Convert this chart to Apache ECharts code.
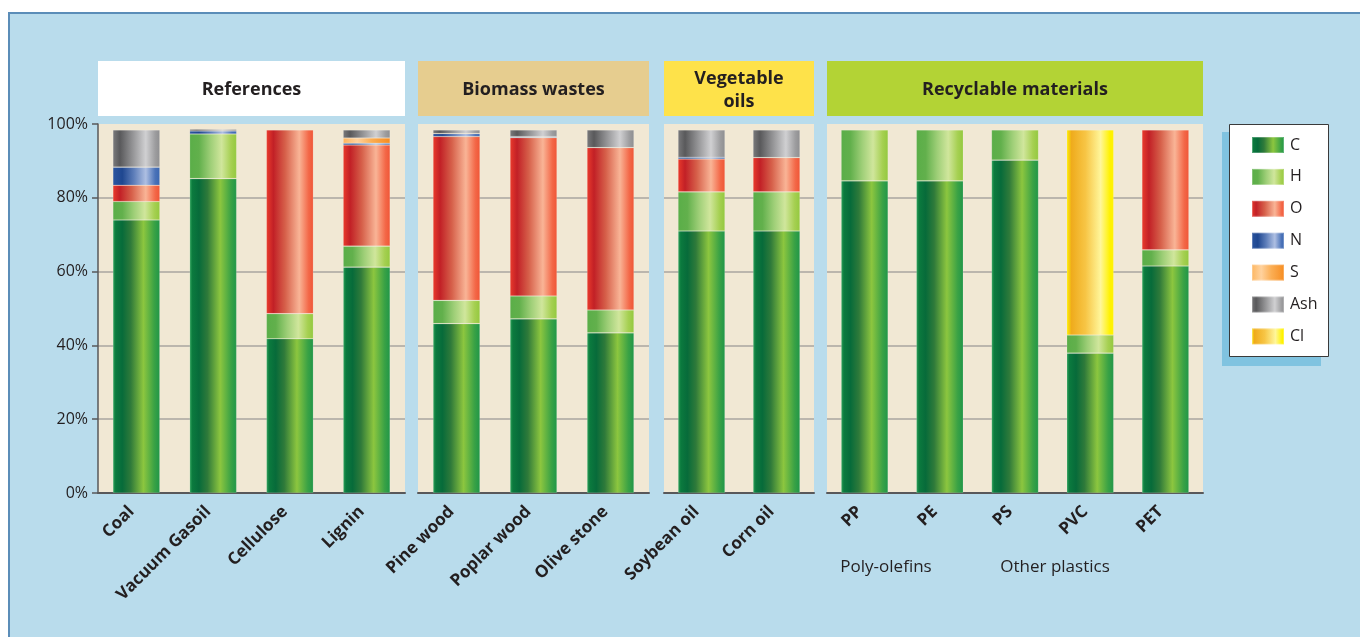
<!DOCTYPE html>
<html>
<head>
    <meta charset="utf-8">
    <title>Elemental composition of feedstocks</title>
    <script src="https://cdn.jsdelivr.net/npm/echarts@6/dist/echarts.min.js"></script>
    <style>
        html, body { margin: 0; padding: 0; background: #ffffff; }
        #chart1 { width: 1360px; height: 637px; }
    </style>
</head>
<body>
<div id="chart1"></div>
<script type="text/javascript">
    // data (mass %)
    var categories = ['Coal', 'Vacuum Gasoil', 'Cellulose', 'Lignin', 'Pine wood', 'Poplar wood', 'Olive stone',
        'Soybean oil', 'Corn oil', 'PP', 'PE', 'PS', 'PVC', 'PET'];
    var groupSizes = [4, 3, 2, 5];
    var groupTitles = ['References', 'Biomass wastes', 'Vegetable\noils', 'Recyclable materials'];
    var elements = ['C', 'H', 'O', 'N', 'S', 'Ash', 'Cl'];
    var valC   = [74.0, 85.2, 41.8, 61.2, 45.9, 47.2, 43.4, 71.0, 71.0, 84.6, 84.6, 90.2, 37.9, 61.5];
    var valH   = [5.0, 12.1, 6.8, 5.7, 6.3, 6.2, 6.2, 10.6, 10.6, 13.8, 13.8, 8.2, 4.9, 4.4];
    var valO   = [4.4, 0, 49.8, 27.4, 44.4, 42.9, 44.0, 8.9, 9.3, 0, 0, 0, 0, 32.5];
    var valN   = [4.9, 0.8, 0, 0.5, 0.8, 0.3, 0, 0.5, 0, 0, 0, 0, 0, 0];
    var valS   = [0, 0, 0, 1.4, 0, 0, 0, 0, 0, 0, 0, 0, 0, 0];
    var valAsh = [10.1, 0.5, 0, 2.2, 1.0, 1.8, 4.8, 7.4, 7.5, 0, 0, 0, 0, 0];
    var valCl  = [0, 0, 0, 0, 0, 0, 0, 0, 0, 0, 0, 0, 55.6, 0];
    var yTicks = [0, 20, 40, 60, 80, 100];

    var values = [valC, valH, valO, valN, valS, valAsh, valCl];

    // panel layout
    var panels = [
        {left: 98, width: 307, head: '#ffffff'},
        {left: 418, width: 231, head: '#e6cd8f'},
        {left: 664, width: 150, head: '#fee24a'},
        {left: 827, width: 376, head: '#b3d335'}
    ];
    var plotTop = 124, plotH = 369;

    function grad(stops) {
        return new echarts.graphic.LinearGradient(0, 0, 1, 0, stops.map(function (s) {
            return {offset: s[0], color: s[1]};
        }));
    }
    var fills = {
        C: grad([[0, '#2fa35a'], [0.06, '#0b7a3e'], [0.2, '#076b3a'], [0.38, '#2f7a3a'], [0.65, '#8cc63f'], [0.88, '#3aa245'], [1, '#1f9648']]),
        H: grad([[0, '#5aae48'], [0.2, '#62b04c'], [0.45, '#9fcf78'], [0.68, '#d0e69c'], [0.88, '#a6d052'], [1, '#93c83e']]),
        O: grad([[0, '#ea3b2c'], [0.15, '#c22026'], [0.4, '#d6604a'], [0.7, '#f9b496'], [0.9, '#f36848'], [1, '#ef5536']]),
        N: grad([[0, '#2b55a0'], [0.2, '#1f4790'], [0.45, '#5f7fba'], [0.7, '#aebfe2'], [0.9, '#4a72b8'], [1, '#3a66b0']]),
        S: grad([[0, '#fdb45c'], [0.3, '#ffd29e'], [0.6, '#fbae54'], [1, '#f68b1f']]),
        Ash: grad([[0, '#7a7a7c'], [0.15, '#59595b'], [0.45, '#9a9a9c'], [0.7, '#d0d0d2'], [0.9, '#9d9d9f'], [1, '#8e8e90']]),
        Cl: grad([[0, '#fff200'], [0.1, '#efab1c'], [0.4, '#f7c545'], [0.72, '#fff69a'], [0.92, '#fff200'], [1, '#fff200']])
    };

    var grids = [], xAxes = [], yAxes = [], series = [], graphics = [];
    var start = 0;
    panels.forEach(function (p, gi) {
        var n = groupSizes[gi];
        grids.push({
            left: p.left, top: plotTop, width: p.width, height: plotH,
            show: true, backgroundColor: '#f1e8d4', borderWidth: 0
        });
        xAxes.push({
            type: 'category', gridIndex: gi,
            data: categories.slice(start, start + n),
            axisLine: {show: true, lineStyle: {color: '#58585a', width: 2}},
            axisTick: {show: false},
            axisLabel: {
                interval: 0, rotate: 45, margin: 11, padding: [0, 7, 0, 0],
                fontFamily: 'Open Sans', fontWeight: 'bold', fontSize: 17, color: '#231f20'
            }
        });
        yAxes.push({
            type: 'value', gridIndex: gi, min: yTicks[0], max: yTicks[yTicks.length - 1], interval: 20,
            axisLine: {show: gi === 0, lineStyle: {color: '#58585a', width: 1.5}},
            axisTick: {show: gi === 0, length: 6, lineStyle: {color: '#58585a', width: 1.5}},
            axisLabel: {
                show: gi === 0, formatter: '{value}%', margin: 10,
                fontFamily: 'Open Sans', fontSize: 16, color: '#231f20'
            },
            splitLine: {show: true, showMaxLine: false, lineStyle: {color: '#a8a6a1', width: 1.5}}
        });
        elements.forEach(function (el, ei) {
            series.push({
                name: el, type: 'bar', stack: 'g' + gi,
                xAxisIndex: gi, yAxisIndex: gi,
                barWidth: 47,
                itemStyle: {color: fills[el], borderColor: 'rgba(255,255,255,0.25)', borderWidth: 0.6},
                emphasis: {disabled: true},
                data: values[ei].slice(start, start + n).map(function (v) { return v > 0 ? v : '-'; })
            });
        });
        // header box
        graphics.push({
            type: 'rect', shape: {x: p.left, y: 61, width: p.width, height: 55},
            style: {fill: p.head}
        });
        graphics.push({
            type: 'text', x: p.left + p.width / 2, y: 90,
            style: {
                text: groupTitles[gi], fill: '#231f20', align: 'center', verticalAlign: 'middle',
                font: 'bold 18px "Open Sans"', lineHeight: 23
            }
        });
        start += n;
    });

    // frame line and legend box
    graphics.unshift({
        type: 'rect', shape: {x: 9, y: 13, width: 1400, height: 700},
        style: {fill: '#b9dcec', stroke: '#5b8db8', lineWidth: 2}, z: -10
    });
    graphics.push({
        type: 'rect', shape: {x: 1222, y: 132, width: 99, height: 234},
        style: {fill: '#80c3e0'}
    });
    graphics.push({
        type: 'rect', shape: {x: 1229.5, y: 124.5, width: 99, height: 232},
        style: {fill: '#ffffff', stroke: '#3a3a3a', lineWidth: 1}
    });
    graphics.push({
        type: 'text', x: 886, y: 567,
        style: {text: 'Poly-olefins', fill: '#231f20', align: 'center', verticalAlign: 'middle', font: '17px "Open Sans"'}
    });
    graphics.push({
        type: 'text', x: 1055, y: 567,
        style: {text: 'Other plastics', fill: '#231f20', align: 'center', verticalAlign: 'middle', font: '17px "Open Sans"'}
    });

    var myChart1 = echarts.init(document.getElementById('chart1'));
    myChart1.setOption({
        animation: false,
        backgroundColor: '#ffffff',
        graphic: {elements: graphics},
        legend: {
            data: elements,
            orient: 'vertical',
            left: 1246, top: 131,
            itemWidth: 32, itemHeight: 16, itemGap: 13.9,
            icon: 'rect',
            selectedMode: false,
            textStyle: {fontFamily: 'Open Sans', fontSize: 16, color: '#231f20', padding: [0, 0, 0, 1]}
        },
        grid: grids,
        xAxis: xAxes,
        yAxis: yAxes,
        series: series
    });
</script>
</body>
</html>
